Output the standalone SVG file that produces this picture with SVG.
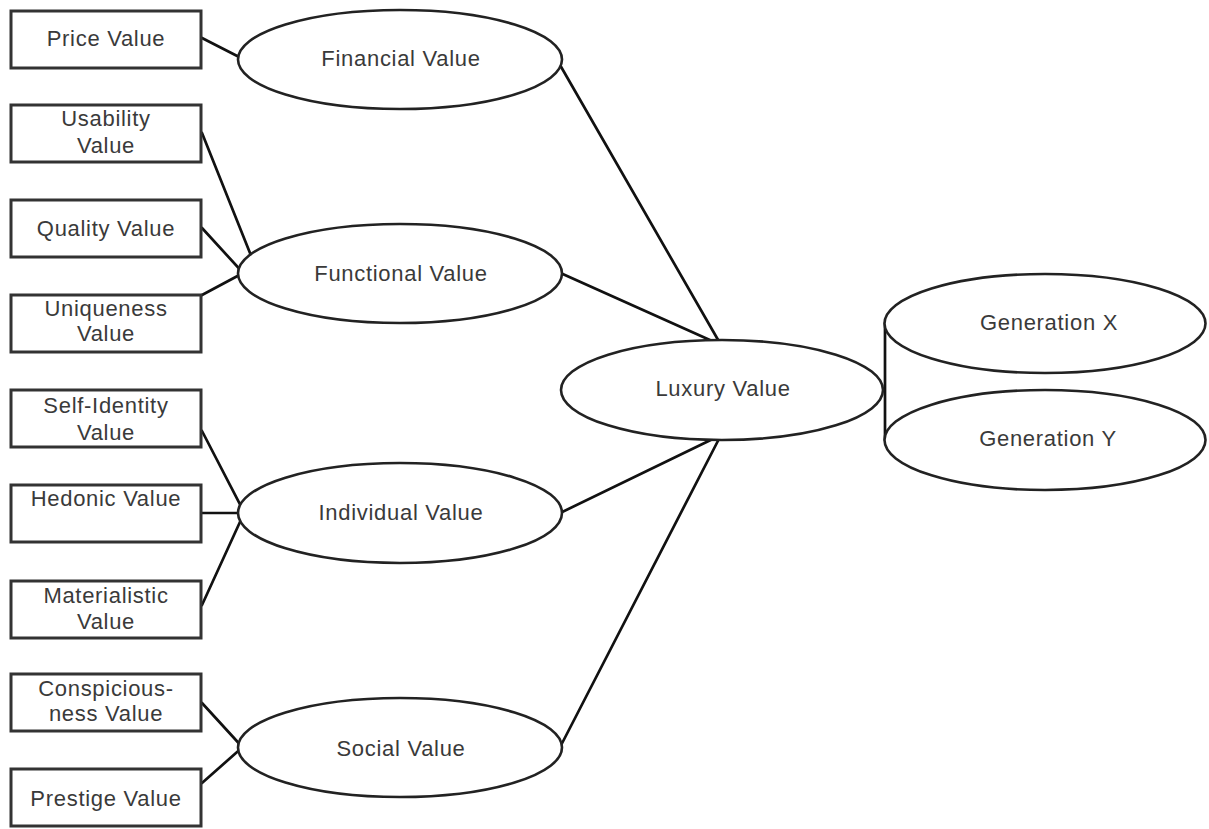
<svg xmlns="http://www.w3.org/2000/svg" width="1209" height="829" viewBox="0 0 1209 829">
<style>
.box{fill:#fff;stroke:#333;stroke-width:3}
.ell{fill:#fff;stroke:#222;stroke-width:2.6}
.conn line{stroke:#111;stroke-width:2.7;stroke-linecap:round}
text{font-family:"Liberation Sans",Arial,sans-serif;font-size:22px;fill:#3a3a3a;text-anchor:middle;letter-spacing:0.7px}
</style>
<rect width="1209" height="829" fill="#fff"/>
<g class="conn" id="connectors">
<line x1="202" y1="38" x2="245" y2="60"/>
<line x1="202" y1="133" x2="252" y2="258"/>
<line x1="202" y1="228" x2="245" y2="275"/>
<line x1="202" y1="295" x2="245" y2="272"/>
<line x1="202" y1="431" x2="245" y2="514"/>
<line x1="202" y1="513" x2="245" y2="513"/>
<line x1="202" y1="605" x2="245" y2="511"/>
<line x1="202" y1="703" x2="245" y2="750"/>
<line x1="202" y1="783" x2="245" y2="745"/>
<line x1="556" y1="58" x2="721" y2="345"/>
<line x1="556" y1="271" x2="721" y2="345"/>
<line x1="556" y1="515" x2="721" y2="435"/>
<line x1="556" y1="755" x2="721" y2="435"/>
<line x1="885" y1="323" x2="885" y2="440"/>
</g>
<g id="price"><rect class="box" x="11" y="11" width="190" height="57"/><text x="106" y="46">Price Value</text></g>
<g id="usability"><rect class="box" x="11" y="105" width="190" height="57"/><text x="106" y="126">Usability</text><text x="106" y="153">Value</text></g>
<g id="quality"><rect class="box" x="11" y="200" width="190" height="57"/><text x="106" y="236">Quality Value</text></g>
<g id="uniqueness"><rect class="box" x="11" y="295" width="190" height="57"/><text x="106" y="316">Uniqueness</text><text x="106" y="341">Value</text></g>
<g id="selfidentity"><rect class="box" x="11" y="390" width="190" height="57"/><text x="106" y="413">Self-Identity</text><text x="106" y="440">Value</text></g>
<g id="hedonic"><rect class="box" x="11" y="485" width="190" height="57"/><text x="106" y="506">Hedonic Value</text></g>
<g id="materialistic"><rect class="box" x="11" y="581" width="190" height="57"/><text x="106" y="603">Materialistic</text><text x="106" y="629">Value</text></g>
<g id="conspicious"><rect class="box" x="11" y="674" width="190" height="57"/><text x="106" y="696">Conspicious-</text><text x="106" y="721">ness Value</text></g>
<g id="prestige"><rect class="box" x="11" y="769" width="190" height="57"/><text x="106" y="806">Prestige Value</text></g>
<g id="financial"><ellipse class="ell" cx="400" cy="59.5" rx="162" ry="49.5"/><text x="401" y="66">Financial Value</text></g>
<g id="functional"><ellipse class="ell" cx="400" cy="273.5" rx="162" ry="49.5"/><text x="401" y="281">Functional Value</text></g>
<g id="individual"><ellipse class="ell" cx="400" cy="513" rx="162" ry="50"/><text x="401" y="520">Individual Value</text></g>
<g id="social"><ellipse class="ell" cx="400" cy="747.5" rx="162" ry="49.5"/><text x="401" y="756">Social Value</text></g>
<g id="luxury"><ellipse class="ell" cx="722" cy="390" rx="161" ry="50"/><text x="723" y="396">Luxury Value</text></g>
<g id="genx"><ellipse class="ell" cx="1045" cy="323.5" rx="160.5" ry="49.5"/><text x="1049" y="330">Generation X</text></g>
<g id="geny"><ellipse class="ell" cx="1045" cy="440" rx="160.5" ry="50"/><text x="1048" y="446">Generation Y</text></g>
</svg>
